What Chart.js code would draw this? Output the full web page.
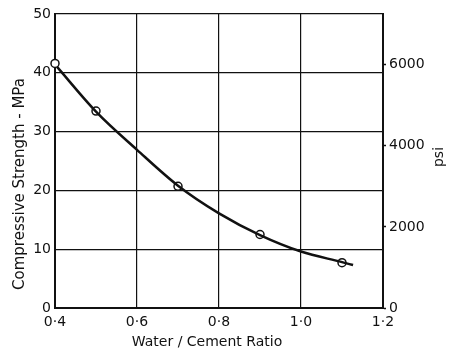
<!DOCTYPE html>
<html>
<head>
<meta charset="utf-8">
<script src="https://cdn.jsdelivr.net/npm/chart.js@4/dist/chart.umd.min.js"></script>
<style>
  html, body { margin: 0; padding: 0; background: #fff; }
  #wrap { width: 461px; height: 361px; }
</style>
</head>
<body>
<div id="wrap"><canvas id="c" width="461" height="361"></canvas></div>
<script>
// Measured test results (water/cement ratio vs compressive strength, MPa)
const testRatio = [0.4, 0.5, 0.7, 0.9, 1.1];
const testStrength = [41.6, 33.5, 20.7, 12.5, 7.7];

// Fitted curve
const curveRatio = [0.405, 0.5, 0.6, 0.7, 0.8, 0.9, 1.0, 1.1, 1.127];
const curveStrength = [41.0, 33.4, 26.9, 20.8, 16.1, 12.4, 9.6, 7.8, 7.3];

const xTicks = [0.4, 0.6, 0.8, 1.0, 1.2];
const mpaTicks = [0, 10, 20, 30, 40, 50];
const psiTicks = [0, 2000, 4000, 6000];
const PSI_PER_MPA = 145.04;

const xTitle = 'Water / Cement Ratio';
const yTitle = 'Compressive Strength - MPa';
const y2Title = 'psi';

const FONT = '"DejaVu Sans", sans-serif';
const INK = '#111';

const titlesPlugin = {
  id: 'titles',
  afterDraw(chart) {
    const ctx = chart.ctx;
    const a = chart.chartArea;
    ctx.save();
    ctx.fillStyle = INK;
    ctx.textAlign = 'center';
    ctx.textBaseline = 'middle';
    // bottom title
    ctx.font = '14px ' + FONT;
    ctx.fillText(xTitle, a.left + 152, a.bottom + 34);
    // left title
    ctx.font = '15px ' + FONT;
    ctx.save();
    ctx.translate(a.left - 35, a.top + 170);
    ctx.rotate(-Math.PI / 2);
    ctx.fillText(yTitle, 0, 0);
    ctx.restore();
    // right title
    ctx.font = '14px ' + FONT;
    ctx.save();
    ctx.translate(a.right + 56, a.top + 143);
    ctx.rotate(-Math.PI / 2);
    ctx.fillText(y2Title, 0, 0);
    ctx.restore();
    ctx.restore();
  }
};

const fmt = v => v.toFixed(1).replace('.', '·');
const tickFont = { family: FONT, size: 14 };

new Chart(document.getElementById('c'), {
  type: 'line',
  data: {
    datasets: [
      {
        label: 'curve',
        data: curveRatio.map((x, i) => ({ x, y: curveStrength[i] })),
        borderColor: INK,
        borderWidth: 2.5,
        pointRadius: 0,
        cubicInterpolationMode: 'monotone',
        fill: false,
        yAxisID: 'y'
      },
      {
        label: 'tests',
        data: testRatio.map((x, i) => ({ x, y: testStrength[i] })),
        showLine: false,
        pointRadius: 4,
        pointBackgroundColor: '#fff',
        pointBorderColor: INK,
        pointBorderWidth: 1.5,
        clip: false,
        yAxisID: 'y'
      }
    ]
  },
  options: {
    responsive: false,
    animation: false,
    layout: { padding: { top: 14, left: 0, right: 0, bottom: 0 } },
    plugins: { legend: { display: false }, tooltip: { enabled: false } },
    scales: {
      x: {
        type: 'linear',
        min: 0.4, max: 1.2,
        afterBuildTicks: s => { s.ticks = xTicks.map(v => ({ value: v })); },
        afterFit: s => { s.height = 53; },
        ticks: { callback: v => fmt(v), color: INK, font: tickFont, padding: 6, maxRotation: 0 },
        grid: { color: INK, lineWidth: 1.2, drawTicks: false },
        border: { color: INK, width: 2 }
      },
      y: {
        position: 'left',
        min: 0, max: 50,
        afterBuildTicks: s => { s.ticks = mpaTicks.map(v => ({ value: v })); },
        afterFit: s => { s.width = 55; },
        ticks: { color: INK, font: tickFont, padding: 4 },
        grid: { color: INK, lineWidth: 1.2, drawTicks: false },
        border: { color: INK, width: 2 }
      },
      y2: {
        position: 'right',
        min: 0, max: 50 * PSI_PER_MPA,
        afterBuildTicks: s => { s.ticks = psiTicks.map(v => ({ value: v })); },
        afterFit: s => { s.width = 78; },
        ticks: { color: INK, font: tickFont, padding: 3, callback: v => String(v) },
        grid: { drawOnChartArea: false, drawTicks: true, tickLength: 3, tickWidth: 1.5, tickColor: INK },
        border: { color: INK, width: 2 }
      }
    }
  },
  plugins: [titlesPlugin]
});
</script>
</body>
</html>
